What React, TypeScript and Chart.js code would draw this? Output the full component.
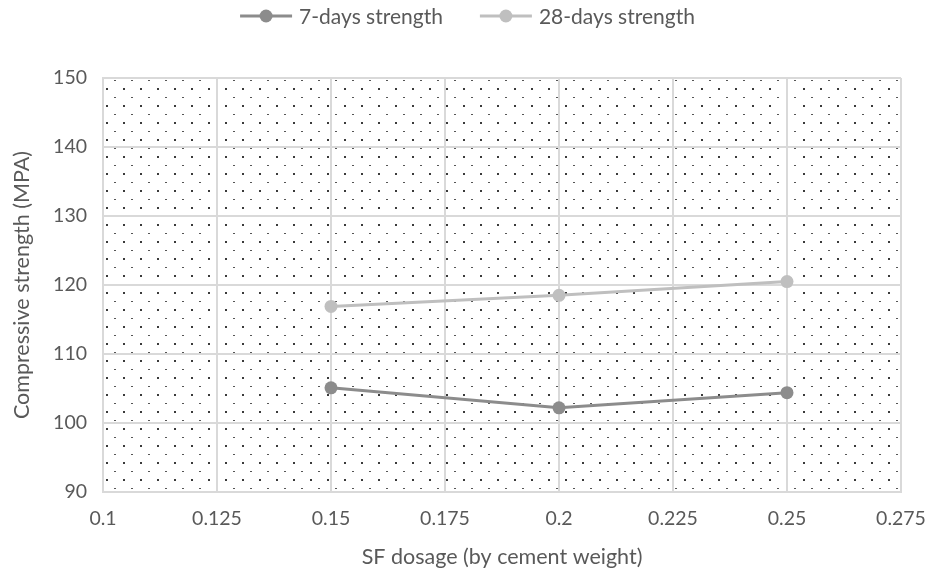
import React, { useEffect, useRef } from "react";
import { Chart, registerables } from "chart.js";

Chart.register(...registerables);

const dosages = [0.15, 0.2, 0.25];
const strength7 = [105.1, 102.2, 104.4];
const strength28 = [116.9, 118.5, 120.5];
const seriesNames = ["7-days strength", "28-days strength"];
const seriesColors = ["#8c8c8c", "#bfbfbf"];

const FONT = "Lato, 'Open Sans', sans-serif";
const TEXT = "#595959";
const GRID = "#d9d9d9";

function makeDotPattern(ctx: CanvasRenderingContext2D): CanvasPattern | string {
  const tile = document.createElement("canvas");
  tile.width = 17;
  tile.height = 17;
  const t = tile.getContext("2d");
  if (!t) return "#ffffff";
  t.fillStyle = "#ffffff";
  t.fillRect(0, 0, 17, 17);
  t.fillStyle = "#3a3a3a";
  t.fillRect(4, 3, 2, 2);
  t.fillStyle = "#555555";
  t.fillRect(12, 12, 2, 1);
  return ctx.createPattern(tile, "repeat") || "#ffffff";
}

// Dotted fill behind the plot area
const plotFill = {
  id: "plotFill",
  beforeDraw(chart: any) {
    const { ctx, chartArea } = chart;
    ctx.save();
    ctx.fillStyle = "#ffffff";
    ctx.fillRect(0, 0, chart.width, chart.height);
    const pat = makeDotPattern(ctx);
    ctx.fillStyle = pat;
    ctx.fillRect(chartArea.left, chartArea.top, chartArea.right - chartArea.left, chartArea.bottom - chartArea.top);
    ctx.restore();
  },
};

// Legend with line-and-marker swatches, centered at the top
const lineLegend = {
  id: "lineLegend",
  afterDraw(chart: any) {
    const { ctx } = chart;
    ctx.save();
    ctx.font = `21px ${FONT}`;
    ctx.textBaseline = "middle";
    const swatch = 52;
    const gapText = 7;
    const gapItems = 37;
    const items = chart.data.datasets.map((d: any) => ({
      label: d.label,
      color: d.borderColor,
      w: swatch + gapText + ctx.measureText(d.label).width,
    }));
    const total = items.reduce((s: number, it: any) => s + it.w, 0) + gapItems * (items.length - 1);
    let x = chart.width / 2 - total / 2;
    const y = 16;
    items.forEach((it: any) => {
      ctx.strokeStyle = it.color;
      ctx.lineWidth = 3;
      ctx.beginPath();
      ctx.moveTo(x, y);
      ctx.lineTo(x + swatch, y);
      ctx.stroke();
      ctx.fillStyle = it.color;
      ctx.beginPath();
      ctx.arc(x + swatch / 2, y, 6.5, 0, Math.PI * 2);
      ctx.fill();
      ctx.fillStyle = TEXT;
      ctx.textAlign = "left";
      ctx.fillText(it.label, x + swatch + gapText, y + 1);
      x += it.w + gapItems;
    });
    ctx.restore();
  },
};

export default function App() {
  const ref = useRef<HTMLCanvasElement>(null);

  useEffect(() => {
    if (!ref.current) return;
    const makeData = (vals: number[]) => dosages.map((x, i) => ({ x, y: vals[i] }));
    const chart = new Chart(ref.current, {
      type: "line",
      data: {
        datasets: [
          {
            label: seriesNames[0],
            data: makeData(strength7),
            borderColor: seriesColors[0],
            backgroundColor: seriesColors[0],
            borderWidth: 3,
            pointRadius: 6.5,
            pointBorderWidth: 0,
            pointBackgroundColor: seriesColors[0],
          },
          {
            label: seriesNames[1],
            data: makeData(strength28),
            borderColor: seriesColors[1],
            backgroundColor: seriesColors[1],
            borderWidth: 3,
            pointRadius: 6.5,
            pointBorderWidth: 0,
            pointBackgroundColor: seriesColors[1],
          },
        ],
      },
      options: {
        responsive: false,
        animation: false,
        devicePixelRatio: 1,
        layout: { padding: { top: 78, right: 34, left: 0, bottom: 0 } },
        plugins: {
          legend: { display: false },
          tooltip: { enabled: false },
        },
        scales: {
          x: {
            type: "linear",
            min: 0.1,
            max: 0.275,
            afterFit(scale: any) {
              scale.height = 88;
              scale.paddingLeft = 0;
              scale.paddingRight = 0;
            },
            ticks: {
              stepSize: 0.025,
              color: TEXT,
              font: { family: FONT, size: 19.5 },
              padding: 15,
              callback: (v: any) => String(Number(Number(v).toFixed(3))),
            },
            grid: { color: GRID, lineWidth: 2, drawTicks: false },
            border: { color: GRID, width: 2 },
            title: {
              display: true,
              text: "SF dosage (by cement weight)",
              color: TEXT,
              font: { family: FONT, size: 21.5 },
              padding: { top: 4, bottom: 10 },
            },
          },
          y: {
            min: 90,
            max: 150,
            afterFit(scale: any) {
              scale.width = 103;
              scale.paddingTop = 0;
              scale.paddingBottom = 0;
            },
            ticks: {
              stepSize: 10,
              color: TEXT,
              font: { family: FONT, size: 19.5 },
              padding: 16,
            },
            grid: { color: GRID, lineWidth: 2, drawTicks: false },
            border: { color: GRID, width: 2 },
            title: {
              display: true,
              text: "Compressive strength (MPA)",
              color: TEXT,
              font: { family: FONT, size: 21.5 },
              padding: { top: 9, bottom: 4 },
            },
          },
        },
      },
      plugins: [plotFill, lineLegend],
    });
    return () => chart.destroy();
  }, []);

  return (
    <div style={{ position: "absolute", left: 0, top: 0, width: 935, height: 580 }}>
      <canvas ref={ref} width={935} height={580} style={{ display: "block" }} />
    </div>
  );
}
